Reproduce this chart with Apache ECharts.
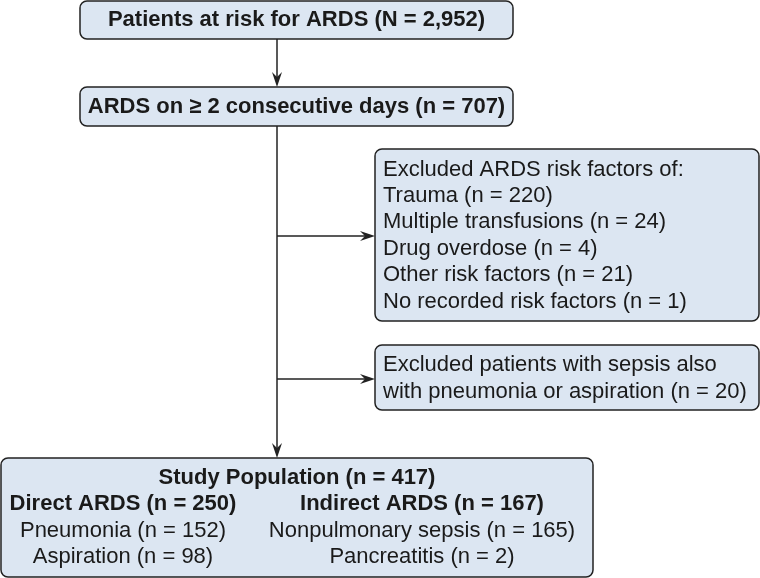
<!DOCTYPE html>
<html>
<head>
<meta charset="utf-8">
<script src="https://cdn.jsdelivr.net/npm/echarts@6/dist/echarts.min.js"></script>
<style>
  html, body { margin: 0; padding: 0; background: #fff; }
  #chart { width: 760px; height: 578px; }
</style>
</head>
<body>
<div id="chart"></div>
<script>
// flow counts
var totalAtRisk = 2952;
var ardsTwoDays = 707;
var riskFactors = ['Trauma', 'Multiple transfusions', 'Drug overdose', 'Other risk factors', 'No recorded risk factors'];
var riskCounts = [220, 24, 4, 21, 1];
var sepsisExcluded = 20;
var studyPopulation = 417;
var groupNames = ['Direct ARDS', 'Indirect ARDS'];
var groupCounts = [250, 167];
var directCauses = ['Pneumonia', 'Aspiration'];
var directCounts = [152, 98];
var indirectCauses = ['Nonpulmonary sepsis', 'Pancreatitis'];
var indirectCounts = [165, 2];

function fmt(v) {
  return v.toLocaleString('en-US');
}

var FONT = '"Liberation Sans", Arial, Helvetica, sans-serif';
var INK = '#222';
var FILL = '#dce6f2';

var els = [];

function box(x, y, w, h) {
  els.push({
    type: 'rect',
    shape: { x: x, y: y, width: w, height: h, r: 7 },
    style: { fill: FILL, stroke: INK, lineWidth: 1.5 }
  });
}

function label(text, x, y, bold, align) {
  els.push({
    type: 'text',
    x: x, y: y,
    style: {
      text: text,
      fill: '#1a1a1a',
      font: (bold ? 'bold ' : '') + '22px ' + FONT,
      textAlign: align || 'center',
      textVerticalAlign: 'middle'
    }
  });
}

function arrow(x1, y1, x2, y2) {
  var dx = x2 - x1, dy = y2 - y1;
  var len = Math.sqrt(dx * dx + dy * dy);
  var ux = dx / len, uy = dy / len;
  var px = -uy, py = ux;
  var L = 15, W = 5, N = 10;
  els.push({
    type: 'line',
    shape: { x1: x1, y1: y1, x2: x2 - ux * N, y2: y2 - uy * N },
    style: { stroke: INK, lineWidth: 1.5 }
  });
  els.push({
    type: 'polygon',
    shape: {
      points: [
        [x2, y2],
        [x2 - ux * L + px * W, y2 - uy * L + py * W],
        [x2 - ux * N, y2 - uy * N],
        [x2 - ux * L - px * W, y2 - uy * L - py * W]
      ]
    },
    style: { fill: INK }
  });
}

// boxes
box(80, 1, 433, 38);
box(80, 87, 433, 39);
box(375, 149, 384, 172);
box(375, 345, 384, 65);
box(1, 458, 592, 119);

// connectors
var spineX = 277;
arrow(spineX, 39, spineX, 87);
els.push({
  type: 'line',
  shape: { x1: spineX, y1: 126, x2: spineX, y2: 380 },
  style: { stroke: INK, lineWidth: 1.5 }
});
arrow(spineX, 380, spineX, 458);
arrow(spineX, 236, 375, 236);
arrow(spineX, 379, 375, 379);

// texts
label('Patients at risk for ARDS (N = ' + fmt(totalAtRisk) + ')', 296.5, 20, true);
label('ARDS on \u2265 2 consecutive days (n = ' + fmt(ardsTwoDays) + ')', 296.5, 107, true);

label('Excluded ARDS risk factors of:', 383, 169.5, false, 'left');
riskFactors.forEach(function (name, i) {
  label(name + ' (n = ' + riskCounts[i] + ')', 383, 195.5 + i * 26.5, false, 'left');
});

label('Excluded patients with sepsis also', 383, 365, false, 'left');
label('with pneumonia or aspiration (n = ' + sepsisExcluded + ')', 383, 391.5, false, 'left');

label('Study Population (n = ' + studyPopulation + ')', 297, 477.5, true);
var colX = [123, 422];
groupNames.forEach(function (g, i) {
  label(g + ' (n = ' + groupCounts[i] + ')', colX[i], 504, true);
});
directCauses.forEach(function (c, i) {
  label(c + ' (n = ' + directCounts[i] + ')', colX[0], 531 + i * 26, false);
});
indirectCauses.forEach(function (c, i) {
  label(c + ' (n = ' + indirectCounts[i] + ')', colX[1], 531 + i * 26, false);
});

var chart = echarts.init(document.getElementById('chart'), null, { renderer: 'canvas' });
chart.setOption({
  animation: false,
  graphic: { elements: els }
});
</script>
</body>
</html>
